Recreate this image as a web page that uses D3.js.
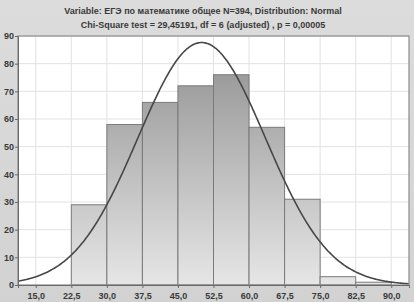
<!DOCTYPE html>
<html>
<head>
<meta charset="utf-8">
<script src="https://cdn.jsdelivr.net/npm/d3@7"></script>
<style>
  html, body { margin: 0; padding: 0; background: #d6d6d6; }
  svg { display: block; }
  text { font-family: "Liberation Sans", Arial, sans-serif; }
</style>
</head>
<body>
<div id="chart"></div>
<script>
// histogram data: bin edges and counts
const binStarts = [15.0, 22.5, 30.0, 37.5, 45.0, 52.5, 60.0, 67.5, 75.0, 82.5];
const binWidth = 7.5;
const counts = [0, 29, 58, 66, 72, 76, 57, 31, 3, 1];
const xTicks = [15.0, 22.5, 30.0, 37.5, 45.0, 52.5, 60.0, 67.5, 75.0, 82.5, 90.0];
const yTicks = [0, 10, 20, 30, 40, 50, 60, 70, 80, 90];
// fitted normal
const nTotal = 394;
const fitMean = 50.0;
const fitSd = 13.45;
const titleLines = [
  'Variable: ЕГЭ по математике общее N=394, Distribution: Normal',
  'Chi-Square test = 29,45191, df = 6 (adjusted) , p = 0,00005'
];

const W = 414, H = 302;
const margin = {top: 36, right: 5, bottom: 17, left: 18};
const w = W - margin.left - margin.right;
const h = H - margin.top - margin.bottom;

const svg = d3.select('#chart').append('svg')
  .attr('width', W).attr('height', H);

const defs = svg.append('defs');
const bg = defs.append('linearGradient').attr('id', 'bg')
  .attr('x1', 0).attr('y1', 0).attr('x2', 0).attr('y2', 1);
bg.append('stop').attr('offset', '0%').attr('stop-color', '#dcdcdc');
bg.append('stop').attr('offset', '100%').attr('stop-color', '#d2d2d2');

const barGrad = defs.append('linearGradient').attr('id', 'barGrad')
  .attr('gradientUnits', 'userSpaceOnUse')
  .attr('x1', 0).attr('y1', 0).attr('x2', 0).attr('y2', h);
barGrad.append('stop').attr('offset', '0%').attr('stop-color', '#8e8e8e');
barGrad.append('stop').attr('offset', '100%').attr('stop-color', '#e6e6e6');

svg.append('rect').attr('width', W).attr('height', H).attr('fill', 'url(#bg)');

// titles
svg.selectAll('.title').data(titleLines).enter().append('text')
  .attr('class', 'title')
  .attr('x', 203).attr('y', (d, i) => 14 + i * 14)
  .attr('text-anchor', 'middle')
  .attr('font-size', 9).attr('font-weight', 'bold')
  .attr('fill', '#3a3a3a')
  .text(d => d);

const g = svg.append('g')
  .attr('transform', `translate(${margin.left},${margin.top})`);

const x = d3.scaleLinear().domain([11.25, 93.75]).range([0, w]);
const y = d3.scaleLinear().domain([0, 90]).range([h, 0]);

g.append('rect').attr('width', w).attr('height', h).attr('fill', '#ffffff');

// grid
g.append('g').selectAll('line').data(xTicks).enter().append('line')
  .attr('x1', d => x(d)).attr('x2', d => x(d))
  .attr('y1', 0).attr('y2', h)
  .attr('stroke', '#e2e2e2').attr('stroke-width', 1);
g.append('g').selectAll('line').data(yTicks.slice(1)).enter().append('line')
  .attr('x1', 0).attr('x2', w)
  .attr('y1', d => y(d)).attr('y2', d => y(d))
  .attr('stroke', '#e2e2e2').attr('stroke-width', 1);

// bars
const bins = binStarts.map((s, i) => ({x0: s, x1: s + binWidth, n: counts[i]}));
g.selectAll('.bar').data(bins.filter(d => d.n > 0)).enter().append('rect')
  .attr('class', 'bar')
  .attr('x', d => x(d.x0))
  .attr('width', d => x(d.x1) - x(d.x0))
  .attr('y', d => y(d.n))
  .attr('height', d => h - y(d.n))
  .attr('fill', 'url(#barGrad)')
  .attr('stroke', '#7a7a7a').attr('stroke-width', 1);

// normal curve scaled to counts per bin
const dens = v => nTotal * binWidth / (fitSd * Math.sqrt(2 * Math.PI)) *
  Math.exp(-0.5 * Math.pow((v - fitMean) / fitSd, 2));
const curvePts = d3.range(11.25, 93.76, 0.25).map(v => [v, dens(v)]);
g.append('path').datum(curvePts)
  .attr('fill', 'none').attr('stroke', '#474747').attr('stroke-width', 1.6)
  .attr('d', d3.line().x(d => x(d[0])).y(d => y(d[1])).curve(d3.curveBasis));

// frame
g.append('rect').attr('width', w).attr('height', h)
  .attr('fill', 'none').attr('stroke', '#8a8a8a').attr('stroke-width', 1.2);

// axes
const xAxis = g.append('g').attr('transform', `translate(0,${h})`)
  .call(d3.axisBottom(x).tickValues(xTicks).tickSize(3)
    .tickFormat(d => d3.format('.1f')(d).replace('.', ',')));
const yAxis = g.append('g')
  .call(d3.axisLeft(y).tickValues(yTicks).tickSize(3));
[xAxis, yAxis].forEach(a => {
  a.select('.domain').attr('stroke', '#6a6a6a');
  a.selectAll('.tick line').attr('stroke', '#6a6a6a');
  a.selectAll('.tick text').attr('fill', '#3a3a3a')
    .attr('font-size', 9).attr('font-weight', 'bold')
    .style('font-family', '"Liberation Sans", Arial, sans-serif');
});
xAxis.selectAll('.tick text').attr('dy', '0.9em');
yAxis.selectAll('.tick text').attr('x', -4);
</script>
</body>
</html>
